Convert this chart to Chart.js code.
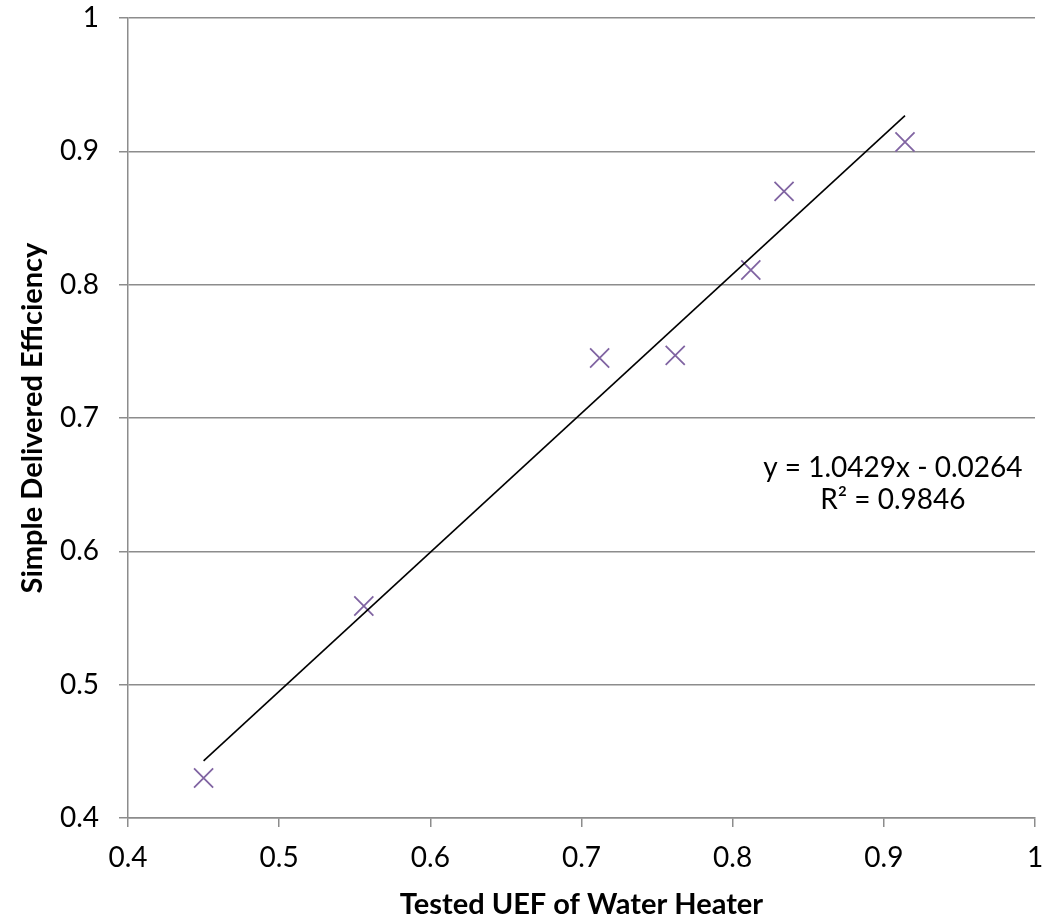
<!DOCTYPE html>
<html>
<head>
<meta charset="utf-8">
<script src="https://cdn.jsdelivr.net/npm/chart.js@4"></script>
<style>
    html, body { margin: 0; padding: 0; background: #ffffff; overflow: hidden; }
    #uefChart { display: block; }
</style>
</head>
<body>
<canvas id="uefChart" width="1044" height="919"></canvas>
<script>
// measured points (tested UEF vs simple delivered efficiency)
const testedUef = [0.450, 0.556, 0.712, 0.762, 0.812, 0.834, 0.914];
const deliveredEff = [0.430, 0.559, 0.745, 0.747, 0.811, 0.870, 0.907];

// excel linear trendline
const slope = 1.0429;
const intercept = -0.0264;
const rSquared = 0.9846;

const axisTicks = [0.4, 0.5, 0.6, 0.7, 0.8, 0.9, 1];

const fontFamily = 'Lato, "Open Sans", sans-serif';
const gridGrey = '#8c8c8c';

const points = testedUef.map((x, i) => ({x: x, y: deliveredEff[i]}));
const xMin = Math.min(...testedUef);
const xMax = Math.max(...testedUef);
const trendPoints = [
    {x: xMin, y: slope * xMin + intercept},
    {x: xMax, y: slope * xMax + intercept}
];

// equation label, placed in data units
const equationLabel = {
    x: 0.906,
    lines: [
        {y: 0.6626, text: 'y = ' + slope + 'x - ' + Math.abs(intercept)},
        {y: 0.6386, text: 'R² = ' + rSquared}
    ]
};

const equationPlugin = {
    id: 'equationText',
    afterDatasetsDraw(chart) {
        const ctx = chart.ctx;
        const xs = chart.scales.x;
        const ys = chart.scales.y;
        ctx.save();
        ctx.fillStyle = '#000000';
        ctx.font = '28px ' + fontFamily;
        ctx.textAlign = 'center';
        ctx.textBaseline = 'middle';
        equationLabel.lines.forEach(line => {
            ctx.fillText(line.text, xs.getPixelForValue(equationLabel.x), ys.getPixelForValue(line.y));
        });
        ctx.restore();
    }
};

// fixed axis boxes, no extra label overhang
function fixBox(scale, size) {
    if (scale.isHorizontal()) {
        scale.height = size;
    } else {
        scale.width = size;
    }
    scale.paddingTop = 0;
    scale.paddingBottom = 0;
    scale.paddingLeft = 0;
    scale.paddingRight = 0;
}

const graph = document.getElementById('uefChart').getContext('2d');

new Chart(graph, {
    type: 'scatter',
    data: {
        datasets: [
            {
                label: 'Trendline',
                data: trendPoints,
                type: 'line',
                showLine: true,
                borderColor: '#000000',
                borderWidth: 1.6,
                pointRadius: 0,
                fill: false
            },
            {
                label: 'Simple Delivered Efficiency',
                data: points,
                pointStyle: 'crossRot',
                pointRadius: 13.5,
                pointBorderWidth: 1.8,
                borderColor: '#8064a2',
                backgroundColor: '#8064a2'
            }
        ]
    },
    options: {
        responsive: false,
        animation: false,
        layout: {
            autoPadding: false,
            padding: {left: 0, top: 18, right: 9, bottom: 0}
        },
        plugins: {
            legend: {display: false},
            tooltip: {enabled: false}
        },
        scales: {
            x: {
                type: 'linear',
                min: 0.4,
                max: 1,
                afterBuildTicks: scale => { scale.ticks = axisTicks.map(v => ({value: v})); },
                afterFit: scale => fixBox(scale, 101),
                grid: {
                    drawOnChartArea: false,
                    drawTicks: true,
                    tickLength: 9,
                    color: gridGrey,
                    lineWidth: 1.5
                },
                border: {display: true, color: gridGrey, width: 1.5},
                ticks: {
                    color: '#000000',
                    font: {family: fontFamily, size: 28},
                    padding: 14,
                    maxRotation: 0,
                    callback: v => String(v)
                },
                title: {
                    display: true,
                    text: 'Tested UEF of Water Heater',
                    color: '#000000',
                    font: {family: fontFamily, size: 29, weight: 'bold', lineHeight: 1},
                    padding: {top: 0, bottom: 0}
                }
            },
            y: {
                type: 'linear',
                min: 0.4,
                max: 1,
                afterBuildTicks: scale => { scale.ticks = axisTicks.map(v => ({value: v})); },
                afterFit: scale => fixBox(scale, 128),
                grid: {
                    drawTicks: true,
                    tickLength: 9,
                    color: gridGrey,
                    lineWidth: 1.5
                },
                border: {display: true, color: gridGrey, width: 1.5},
                ticks: {
                    color: '#000000',
                    font: {family: fontFamily, size: 28},
                    padding: 20,
                    callback: v => String(v)
                },
                title: {
                    display: true,
                    text: 'Simple Delivered Efficiency',
                    color: '#000000',
                    font: {family: fontFamily, size: 29, weight: 'bold', lineHeight: 1},
                    padding: {top: 18, bottom: 18}
                }
            }
        }
    },
    plugins: [equationPlugin]
});
</script>
</body>
</html>
